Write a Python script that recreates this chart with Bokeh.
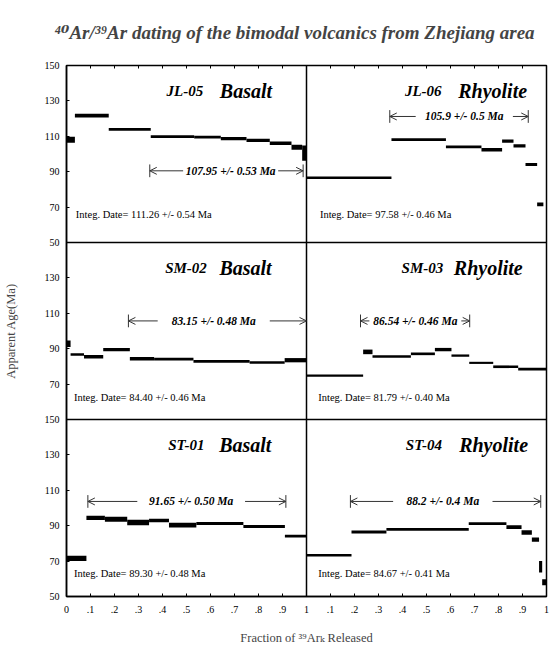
from bokeh.plotting import figure
from bokeh.models import Range1d, FixedTicker, LinearAxis, Arrow, OpenHead, Span
from bokeh.core.properties import value
from bokeh.embed import file_html
from bokeh.resources import INLINE

# ---------------- data ----------------
title_text = "\u2074\u2070Ar/\u00b3\u2079Ar dating of the bimodal volcanics from Zhejiang area"
samples = ["JL-05", "JL-06", "SM-02", "SM-03", "ST-01", "ST-04"]
rocks = ["Basalt", "Rhyolite", "Basalt", "Rhyolite", "Basalt", "Rhyolite"]

# cumulative 39Ar fraction edges, apparent ages (Ma), half-height errors (Ma)
jl05_edges = [0, 0.035, 0.176, 0.351, 0.532, 0.643, 0.75, 0.847, 0.9375, 0.982, 1.0]
jl05_ages = [108.1, 121.7, 113.9, 109.8, 109.5, 108.7, 107.7, 106.1, 103.8, 100.5]
jl05_errs = [1.7, 1.05, 0.75, 0.75, 0.75, 0.95, 0.9, 0.95, 1.4, 4.3]

jl06_edges = [0, 0.354, 0.581, 0.729, 0.815, 0.8625, 0.9125, 0.961, 0.987]
jl06_ages = [86.6, 108.1, 104.0, 102.4, 107.3, 104.6, 94.1, 71.6]
jl06_errs = [0.75, 0.75, 0.75, 0.95, 0.95, 0.95, 0.85, 1.05]

sm02_edges = [0, 0.017, 0.073, 0.153, 0.264, 0.365, 0.529, 0.763, 0.909, 1.0]
sm02_ages = [92.8, 86.7, 85.4, 89.5, 84.3, 84.1, 82.8, 82.2, 83.5]
sm02_errs = [1.9, 0.75, 1.0, 0.95, 1.0, 0.75, 0.75, 0.75, 1.2]

sm03_edges = [0, 0.236, 0.275, 0.435, 0.535, 0.604, 0.678, 0.778, 0.882, 1.0]
sm03_ages = [74.8, 88.2, 85.6, 87.1, 89.5, 86.1, 82.0, 79.8, 78.5]
sm03_errs = [0.65, 1.3, 0.75, 0.75, 0.95, 0.65, 0.6, 0.75, 0.75]

st01_edges = [0, 0.083, 0.16, 0.253, 0.344, 0.427, 0.541, 0.737, 0.91, 1.0]
st01_ages = [71.5, 94.4, 93.7, 91.8, 92.9, 90.3, 91.2, 89.6, 84.1]
st01_errs = [1.5, 1.2, 1.4, 1.5, 1.0, 1.3, 0.85, 0.85, 0.75]

st04_edges = [0, 0.1875, 0.333, 0.676, 0.833, 0.896, 0.939, 0.969, 0.982, 1.0]
st04_ages = [73.3, 86.4, 87.9, 91.2, 89.2, 86.2, 82.1, 66.8, 58.0]
st04_errs = [0.65, 0.85, 0.75, 0.75, 1.0, 1.3, 1.2, 3.3, 1.7]

# plateau extents (fraction) and texts
plateau_ranges = [[0.347, 0.986], [0.347, 0.924], [0.258, 1.0],
                  [0.225, 0.68], [0.089, 0.914], [0.183, 0.976]]
plateau_texts = ["107.95 +/- 0.53 Ma", "105.9 +/- 0.5 Ma", "83.15 +/- 0.48 Ma",
                 "86.54 +/- 0.46 Ma", "91.65 +/- 0.50 Ma", "88.2 +/- 0.4 Ma"]
integ_texts = ["Integ. Date= 111.26 +/- 0.54 Ma", "Integ. Date= 97.58 +/- 0.46 Ma",
               "Integ. Date= 84.40 +/- 0.46 Ma", "Integ. Date= 81.79 +/- 0.40 Ma",
               "Integ. Date= 89.30 +/- 0.48 Ma", "Integ. Date= 84.67 +/- 0.41 Ma"]

xtick_labels = ["0", ".1", ".2", ".3", ".4", ".5", ".6", ".7", ".8", ".9", "1"]
ytick_labels = ["50", "70", "90", "110", "130", "150"]

spectra = [(jl05_edges, jl05_ages, jl05_errs), (jl06_edges, jl06_ages, jl06_errs),
           (sm02_edges, sm02_ages, sm02_errs), (sm03_edges, sm03_ages, sm03_errs),
           (st01_edges, st01_ages, st01_errs), (st04_edges, st04_ages, st04_errs)]

# ---------------- layout (annotation placement) ----------------
arrow_y = [90.5, 121.2, 105.7, 105.7, 103.7, 103.7]
arrow_gap = [[0.486, 0.882], [0.455, 0.86], [0.38, 0.847],
             [0.262, 0.645], [0.295, 0.744], [0.361, 0.775]]
integ_pos = [[0.039, 65.8], [0.056, 65.8], [0.031, 62.7],
             [0.049, 62.7], [0.031, 63.1], [0.049, 63.1]]
name_x = [0.417, 0.41, 0.411, 0.396, 0.424, 0.414]
rock_x = [0.639, 0.632, 0.637, 0.614, 0.636, 0.636]
label_y = 135.8

SERIF = value("Liberation Serif")
SERIF_STACK = "'Liberation Serif', 'DejaVu Serif', serif"

p = figure(frame_width=480, frame_height=531,
           x_range=Range1d(0, 2), y_range=Range1d(50, 350),
           output_backend="svg", toolbar_location=None,
           min_border_left=61, min_border_right=4, min_border_top=64,
           min_border_bottom=38, background_fill_color="white",
           border_fill_color="white")
p.extra_x_ranges = {"right": Range1d(-1, 1)}
p.extra_y_ranges = {"top": Range1d(-150, 150), "mid": Range1d(-50, 250)}
p.grid.visible = False
p.outline_line_color = "black"
p.outline_line_width = 1.5

p.title.text = title_text
p.title.align = "left"
p.title.offset = -12
p.title.vertical_align = "top"
p.title.text_font = SERIF_STACK
p.title.text_font_style = "bold italic"
p.title.text_font_size = "19px"
p.title.standoff = 42

# x ticks: left panel 0..1, right panel 1..2 (labels from tick label list)
xticks, xover = [], {}
for i, lab in enumerate(xtick_labels):
    t = round(i * 0.1, 10)
    if i == 10:
        t = 1
    if i == 0:
        t = 0
    xticks.append(t)
    xover[t] = lab
for i, lab in enumerate(xtick_labels[1:], start=1):
    t = round(1 + i * 0.1, 10)
    if i == 10:
        t = 2
    xticks.append(t)
    xover[t] = lab

ylev = [50, 70, 90, 110, 130, 150]
yticks, yover = [], {}
for off, keep in [(0, ylev), (100, ylev[1:-1]), (200, ylev)]:
    for v in keep:
        t = v + off
        yticks.append(t)
        yover[t] = ytick_labels[ylev.index(v)]

xa = p.xaxis[0]
xa.ticker = FixedTicker(ticks=xticks)
xa.major_label_overrides = xover
xa.axis_label = "Fraction of \u00b3\u2079Ar\u2096 Released"
ya = p.yaxis[0]
ya.ticker = FixedTicker(ticks=yticks)
ya.major_label_overrides = yover
ya.axis_label = "Apparent Age(Ma)"
for ax in (xa, ya):
    ax.major_tick_in = 3
    ax.major_tick_out = 0
    ax.minor_tick_line_color = None
    ax.axis_line_width = 1.5
    ax.major_label_text_font = "Liberation Serif"
    ax.major_label_text_font_size = "10px"
    ax.axis_label_text_font = SERIF_STACK
    ax.axis_label_text_font_size = "12.5px"
    ax.axis_label_text_font_style = "normal"
    ax.major_label_text_color = "black"
xa.major_label_standoff = 9
xa.axis_label_standoff = 15
ya.major_label_standoff = 7
ya.axis_label_standoff = 24

top_ax = LinearAxis(ticker=FixedTicker(ticks=xticks), major_label_text_color=None,
                    major_label_text_font_size="4px",
                    major_tick_in=3, major_tick_out=0, minor_tick_line_color=None,
                    axis_line_color=None, major_label_standoff=0)
p.add_layout(top_ax, "above")

# panel dividers
p.add_layout(Span(location=1, dimension="height", line_color="black", line_width=1.5))
p.add_layout(Span(location=150, dimension="width", line_color="black", line_width=1.5))
p.add_layout(Span(location=250, dimension="width", line_color="black", line_width=1.5))

row_ranges = ["top", "mid", "default"]
GRAY = "#333333"

for k in range(6):
    xr = "default" if k % 2 == 0 else "right"
    yr = row_ranges[k // 2]
    edges, ages, errs = spectra[k]
    p.quad(left=edges[:-1], right=edges[1:],
           bottom=[a - e for a, e in zip(ages, errs)],
           top=[a + e for a, e in zip(ages, errs)],
           fill_color="black", line_color=None,
           x_range_name=xr, y_range_name=yr)

    # plateau arrow
    x0, x1 = plateau_ranges[k]
    g0, g1 = arrow_gap[k]
    yy = arrow_y[k]
    p.add_layout(Arrow(end=OpenHead(size=7, line_width=1, line_color=GRAY),
                       x_start=g0, y_start=yy, x_end=x0, y_end=yy,
                       line_width=1, line_color=GRAY,
                       x_range_name=xr, y_range_name=yr))
    p.add_layout(Arrow(end=OpenHead(size=7, line_width=1, line_color=GRAY),
                       x_start=g1, y_start=yy, x_end=x1, y_end=yy,
                       line_width=1, line_color=GRAY,
                       x_range_name=xr, y_range_name=yr))
    bx = [x for x in (x0, x1) if x < 0.999]
    p.segment(x0=bx, x1=bx, y0=[yy - 3.6] * len(bx), y1=[yy + 3.6] * len(bx),
              line_color=GRAY, line_width=1,
              x_range_name=xr, y_range_name=yr)
    p.text(x=[(g0 + g1) / 2], y=[yy], text=[plateau_texts[k]],
           text_font=SERIF, text_font_size="11.5px", text_font_style="bold italic",
           text_align="center", text_baseline="middle", text_color="black",
           x_range_name=xr, y_range_name=yr)

    # integrated date
    p.text(x=[integ_pos[k][0]], y=[integ_pos[k][1]], text=[integ_texts[k]],
           text_font=SERIF, text_font_size="10.5px", text_align="left",
           text_baseline="middle", text_color="black",
           x_range_name=xr, y_range_name=yr)

    # sample name and rock type
    p.text(x=[name_x[k]], y=[label_y], text=[samples[k]],
           text_font=SERIF, text_font_size="15px", text_font_style="bold italic",
           text_align="left", text_baseline="alphabetic", text_color="black",
           x_range_name=xr, y_range_name=yr)
    p.text(x=[rock_x[k]], y=[label_y], text=[rocks[k]],
           text_font=SERIF, text_font_size="20px", text_font_style="bold italic",
           text_align="left", text_baseline="alphabetic", text_color="black",
           x_range_name=xr, y_range_name=yr)

open("out.html", "w").write(file_html(p, INLINE))
